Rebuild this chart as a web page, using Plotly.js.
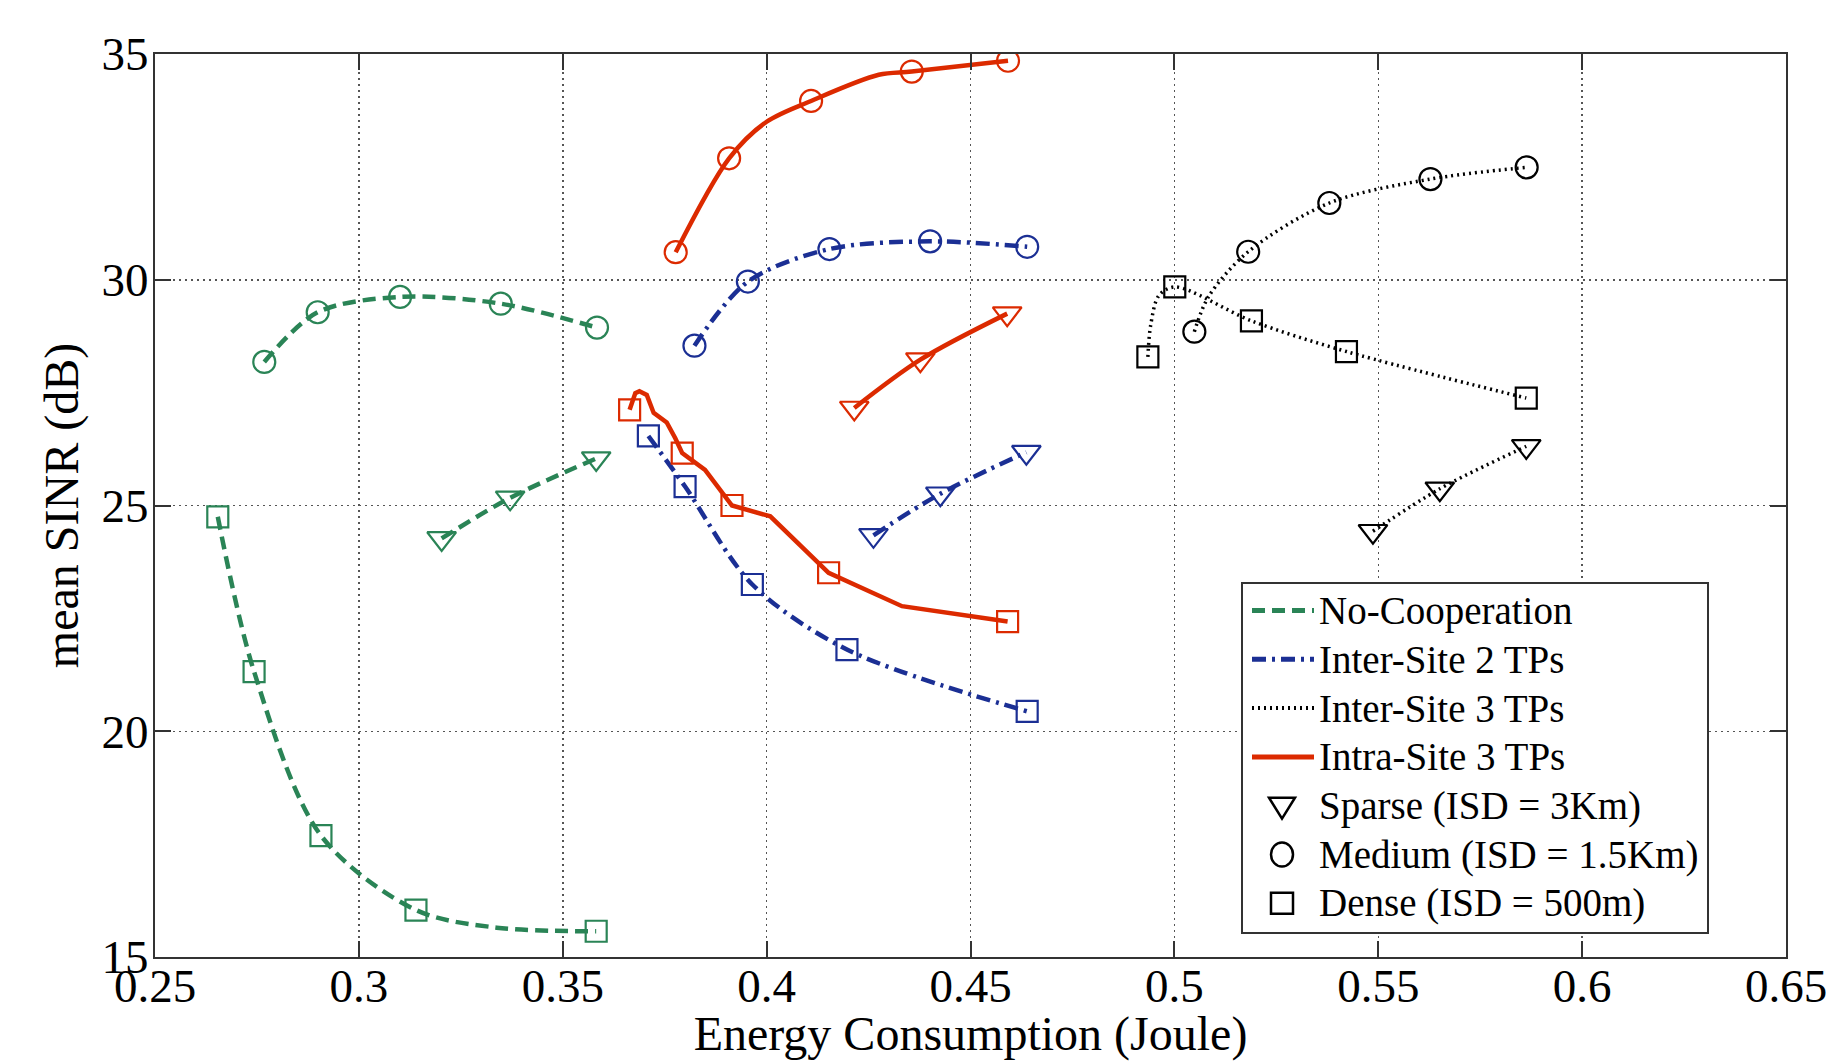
<!DOCTYPE html>
<html>
<head>
<meta charset="utf-8">
<script src="https://cdn.plot.ly/plotly-3.0.1.min.js"></script>
<style>
  html, body { margin: 0; padding: 0; background: #ffffff; }
  #chart { width: 1826px; height: 1061px; }
</style>
</head>
<body>
<div id="chart"></div>
<script>
// ---------------- data ----------------
const xTickValues = [0.25, 0.3, 0.35, 0.4, 0.45, 0.5, 0.55, 0.6, 0.65];
const xTickLabels = ['0.25', '0.3', '0.35', '0.4', '0.45', '0.5', '0.55', '0.6', '0.65'];
const yTickValues = [15, 20, 25, 30, 35];
const yTickLabels = ['15', '20', '25', '30', '35'];

const schemeNames = ['No-Cooperation', 'Inter-Site 2 TPs', 'Inter-Site 3 TPs', 'Intra-Site 3 TPs'];
const densityNames = ['Sparse (ISD = 3Km)', 'Medium (ISD = 1.5Km)', 'Dense (ISD = 500m)'];

// No-Cooperation
const noCoopSparseX = [0.3203, 0.3371, 0.3582];
const noCoopSparseY = [24.27, 25.17, 26.04];
const noCoopMediumX = [0.2768, 0.2899, 0.3101, 0.3348, 0.3584];
const noCoopMediumY = [28.18, 29.28, 29.62, 29.47, 28.94];
const noCoopDenseX = [0.2654, 0.2743, 0.2907, 0.3140, 0.3582];
const noCoopDenseY = [24.75, 21.32, 17.69, 16.04, 15.57];
const noCoopDenseCurveX = [0.2654, 0.2743, 0.2907, 0.3140, 0.3338, 0.3582];
const noCoopDenseCurveY = [24.75, 21.32, 17.69, 16.04, 15.65, 15.57];

// Inter-Site 2 TPs
const inter2SparseX = [0.4262, 0.4426, 0.4637];
const inter2SparseY = [24.34, 25.26, 26.18];
const inter2MediumX = [0.3823, 0.3954, 0.4154, 0.4401, 0.4639];
const inter2MediumY = [28.54, 29.96, 30.68, 30.85, 30.73];
const inter2DenseX = [0.3710, 0.3800, 0.3965, 0.4197, 0.4639];
const inter2DenseY = [26.54, 25.42, 23.25, 21.81, 20.44];

// Inter-Site 3 TPs
const inter3SparseX = [0.5487, 0.5651, 0.5863];
const inter3SparseY = [24.43, 25.37, 26.31];
const inter3MediumX = [0.5049, 0.5181, 0.5380, 0.5628, 0.5864];
const inter3MediumY = [28.85, 30.62, 31.70, 32.23, 32.49];
const inter3MediumCurveX = [0.5049, 0.5084, 0.5181, 0.5380, 0.5628, 0.5864];
const inter3MediumCurveY = [28.85, 29.63, 30.62, 31.70, 32.23, 32.49];
const inter3DenseX = [0.4935, 0.5001, 0.5189, 0.5422, 0.5863];
const inter3DenseY = [28.29, 29.84, 29.09, 28.41, 27.38];
const inter3DenseCurveX = [0.4935, 0.4942, 0.4962, 0.5001, 0.5189, 0.5422, 0.5863];
const inter3DenseCurveY = [28.29, 29.00, 29.65, 29.84, 29.09, 28.41, 27.38];

// Intra-Site 3 TPs
const intra3SparseX = [0.4215, 0.4377, 0.4590];
const intra3SparseY = [27.16, 28.23, 29.25];
const intra3MediumX = [0.3777, 0.3908, 0.4109, 0.4356, 0.4592];
const intra3MediumY = [30.61, 32.69, 33.96, 34.61, 34.85];
const intra3MediumCurveX = [0.3777, 0.3908, 0.4000, 0.4109, 0.4275, 0.4356, 0.4592];
const intra3MediumCurveY = [30.61, 32.69, 33.50, 33.96, 34.54, 34.61, 34.85];
const intra3DenseX = [0.3664, 0.3793, 0.3915, 0.4152, 0.4591];
const intra3DenseY = [27.12, 26.16, 25.00, 23.51, 22.43];
const intra3DenseCurveX = [0.3664, 0.3678, 0.3688, 0.3706, 0.3723, 0.3755, 0.3776, 0.3793, 0.3849, 0.3915, 0.4009, 0.4152, 0.4332, 0.4591];
const intra3DenseCurveY = [27.12, 27.49, 27.53, 27.45, 27.05, 26.84, 26.49, 26.16, 25.79, 25.00, 24.76, 23.51, 22.77, 22.43];

// ---------------- styles ----------------
const FONT = '"Liberation Serif", "Times New Roman", Times, serif';
const GREEN = '#2a8456';
const BLUE = '#1b2f94';
const BLACK = '#000000';
const RED = '#dc2a00';

const schemeStyles = [
  { color: GREEN, width: 4.5, dash: '13px,7px' },
  { color: BLUE, width: 4.5, dash: '14px,6px,3px,6px' },
  { color: BLACK, width: 3.5, dash: '2px,4px' },
  { color: RED, width: 4.5, dash: 'solid' }
];
const densitySymbols = ['triangle-down-open', 'circle-open', 'square-open'];
const densitySizes = [25, 22, 21];

// series list: [scheme index, density index, marker x, marker y, curve x, curve y, curve shape]
const series = [
  [0, 0, noCoopSparseX, noCoopSparseY, noCoopSparseX, noCoopSparseY, 'spline'],
  [0, 1, noCoopMediumX, noCoopMediumY, noCoopMediumX, noCoopMediumY, 'spline'],
  [0, 2, noCoopDenseX, noCoopDenseY, noCoopDenseCurveX, noCoopDenseCurveY, 'spline'],
  [1, 0, inter2SparseX, inter2SparseY, inter2SparseX, inter2SparseY, 'spline'],
  [1, 1, inter2MediumX, inter2MediumY, inter2MediumX, inter2MediumY, 'spline'],
  [1, 2, inter2DenseX, inter2DenseY, inter2DenseX, inter2DenseY, 'spline'],
  [2, 0, inter3SparseX, inter3SparseY, inter3SparseX, inter3SparseY, 'spline'],
  [2, 1, inter3MediumX, inter3MediumY, inter3MediumCurveX, inter3MediumCurveY, 'spline'],
  [2, 2, inter3DenseX, inter3DenseY, inter3DenseCurveX, inter3DenseCurveY, 'spline'],
  [3, 0, intra3SparseX, intra3SparseY, intra3SparseX, intra3SparseY, 'spline'],
  [3, 1, intra3MediumX, intra3MediumY, intra3MediumCurveX, intra3MediumCurveY, 'spline'],
  [3, 2, intra3DenseX, intra3DenseY, intra3DenseCurveX, intra3DenseCurveY, 'linear']
];

const traces = [];
series.forEach(function (s) {
  const st = schemeStyles[s[0]];
  traces.push({
    type: 'scatter', mode: 'lines', x: s[4], y: s[5],
    name: schemeNames[s[0]] + ' – ' + densityNames[s[1]],
    line: { color: st.color, width: st.width, dash: st.dash, shape: s[6], smoothing: 0.9 },
    showlegend: false, hoverinfo: 'skip'
  });
  traces.push({
    type: 'scatter', mode: 'markers', x: s[2], y: s[3],
    name: schemeNames[s[0]] + ' – ' + densityNames[s[1]],
    marker: { symbol: densitySymbols[s[1]], size: densitySizes[s[1]], color: st.color,
              line: { color: st.color, width: 2.2 } },
    showlegend: false
  });
});

// ---------------- legend box (drawn as layout shapes + annotations) ----------------
const plotLeftPx = 155, plotRightPx = 1786, plotTopPx = 54, plotBottomPx = 957;
function px2paperX(p) { return (p - plotLeftPx) / (plotRightPx - plotLeftPx); }
function px2paperY(p) { return (plotBottomPx - p) / (plotBottomPx - plotTopPx); }

const legendLeft = 1242, legendRight = 1708, legendTop = 583, legendBottom = 933;
const legendRowFirst = 610.5, legendRowStep = 48.8;
const sampleX0 = 1252, sampleX1 = 1314, symbolCx = 1282, textX = 1317;

const shapes = [{
  type: 'rect', xref: 'paper', yref: 'paper', layer: 'above',
  x0: px2paperX(legendLeft), x1: px2paperX(legendRight),
  y0: px2paperY(legendBottom), y1: px2paperY(legendTop),
  fillcolor: '#ffffff', line: { color: '#333333', width: 2 }
}];
const annotations = [];
const legendLabels = schemeNames.concat(densityNames);
legendLabels.forEach(function (label, i) {
  const rowY = px2paperY(legendRowFirst + i * legendRowStep);
  annotations.push({
    xref: 'paper', yref: 'paper', x: px2paperX(textX), y: rowY,
    xanchor: 'left', yanchor: 'middle', showarrow: false, text: label,
    font: { family: FONT, size: 39, color: '#000000' }
  });
  if (i < schemeNames.length) {
    const st = schemeStyles[i];
    shapes.push({
      type: 'line', xref: 'paper', yref: 'paper', layer: 'above',
      x0: px2paperX(sampleX0), x1: px2paperX(sampleX1), y0: rowY, y1: rowY,
      line: { color: st.color, width: st.width + 0.5, dash: st.dash }
    });
  } else {
    const d = i - schemeNames.length;
    const base = {
      xref: 'paper', yref: 'paper', layer: 'above',
      xsizemode: 'pixel', ysizemode: 'pixel',
      xanchor: px2paperX(symbolCx), yanchor: rowY,
      fillcolor: 'rgba(0,0,0,0)', line: { color: BLACK, width: 2.5 }
    };
    if (d === 0) {
      shapes.push(Object.assign({}, base, { type: 'path', path: 'M-13,8 L13,8 L0,-13 Z' }));
    } else if (d === 1) {
      shapes.push(Object.assign({}, base, { type: 'circle', x0: -11, x1: 11, y0: -12, y1: 12 }));
    } else {
      shapes.push(Object.assign({}, base, { type: 'rect', x0: -11, x1: 11, y0: -10.5, y1: 10.5 }));
    }
  }
});

const axisCommon = {
  showline: true, linecolor: '#333333', linewidth: 2, mirror: 'ticks',
  ticks: 'inside', ticklen: 16, tickwidth: 2, tickcolor: '#333333',
  showgrid: true, gridcolor: '#555555', gridwidth: 1.5, griddash: '2px,4px',
  zeroline: false, tickfont: { family: FONT, size: 47, color: '#000000' },
  ticklabeloverflow: 'allow', fixedrange: true
};

const layout = {
  width: 1826, height: 1061,
  margin: { l: plotLeftPx, r: 1826 - plotRightPx, t: plotTopPx, b: 1061 - plotBottomPx },
  paper_bgcolor: '#ffffff', plot_bgcolor: '#ffffff',
  font: { family: FONT, color: '#000000' },
  xaxis: Object.assign({}, axisCommon, {
    range: [0.25, 0.65], tickmode: 'array', tickvals: xTickValues, ticktext: xTickLabels,
    ticklabelstandoff: -13,
    title: { text: 'Energy Consumption (Joule)', font: { family: FONT, size: 48, color: '#000000' }, standoff: 17 }
  }),
  yaxis: Object.assign({}, axisCommon, {
    range: [15, 35], tickmode: 'array', tickvals: yTickValues, ticktext: yTickLabels,
    ticklabelstandoff: -5,
    title: { text: 'mean SINR (dB)', font: { family: FONT, size: 48, color: '#000000' }, standoff: 8 }
  }),
  shapes: shapes,
  annotations: annotations,
  showlegend: false
};

Plotly.newPlot('chart', traces, layout, { displayModeBar: false, staticPlot: true });
</script>
</body>
</html>
